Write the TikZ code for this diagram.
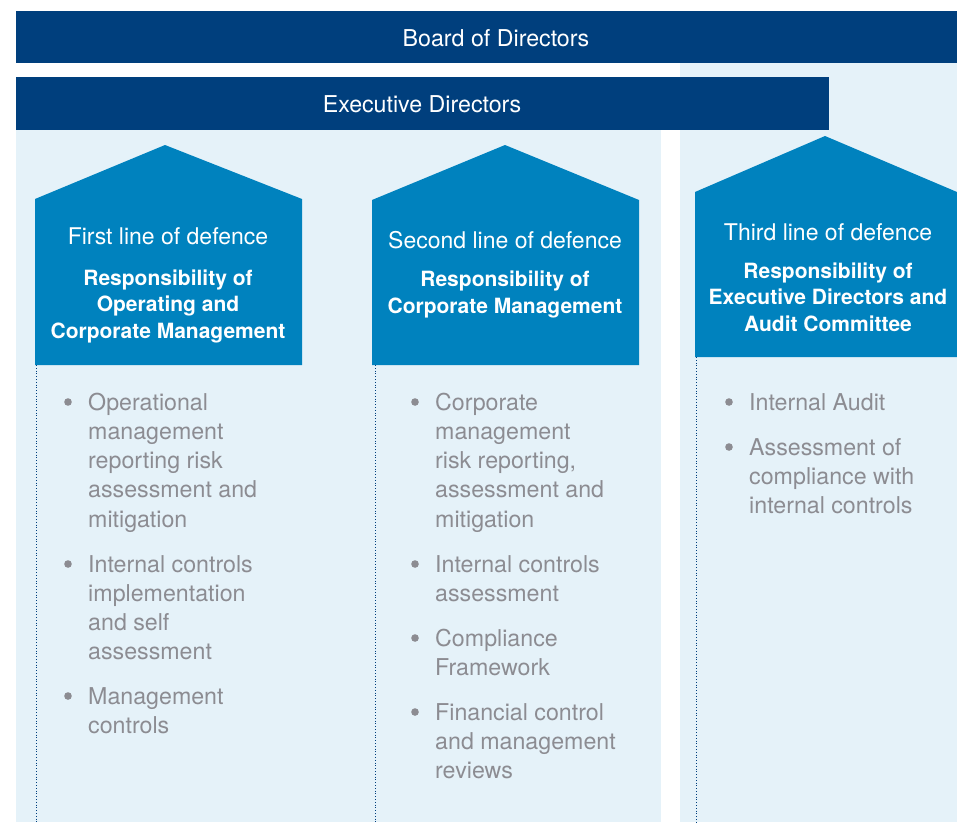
\documentclass[tikz,border=0pt]{standalone}
\usepackage{fontspec}
\setmainfont{TeX Gyre Heros}
\usetikzlibrary{positioning}

\definecolor{navy}{RGB}{0,63,125}
\definecolor{lineblue}{RGB}{0,130,190}
\definecolor{paleblue}{RGB}{229,242,249}
\definecolor{textgray}{RGB}{140,140,146}

% one bullet point of a column: name, x, first baseline y, number of lines, text
\newcommand{\defenceitem}[5]{%
  \fill[textgray] (#2-20,#3-8) circle (3.8);
  \node[itemtext] (#1) at (#2,{#3+(#4-1)*29.3}) {#5};
}

\begin{document}
\begin{tikzpicture}[x=1pt, y=-1pt,
  bar/.style={fill=navy},
  bartext/.style={text=white, font=\fontsize{23.2}{26}\selectfont},
  pentagon/.style={fill=lineblue},
  headtext/.style={text=white, font=\fontsize{23}{26}\selectfont, anchor=base},
  resptext/.style={text=white, font=\fontsize{21}{26.5}\selectfont\bfseries, align=center, anchor=base},
  itemtext/.style={text=textgray, font=\fontsize{23.2}{29.3}\selectfont, align=left, anchor=base west, inner sep=0pt},
  guide/.style={navy, dotted, line width=0.8pt}]
\useasboundingbox (0,0) rectangle (957,822);

% backgrounds and bars
\fill[paleblue] (16,130) rectangle (661,822);
\fill[paleblue] (680,63) rectangle (957,822);
\fill[bar] (16,11) rectangle (957,63);
\fill[bar] (16,77) rectangle (829,130);
\node[bartext] (board) at (496,38) {Board of Directors};
\node[bartext] (exec) at (422,104) {Executive Directors};

% the three lines of defence
\fill[pentagon] (35,365) -- (35,199) -- (165,145) -- (302,199) -- (302,365) -- cycle;
\fill[pentagon] (372,365) -- (372,200) -- (505,145) -- (639,200) -- (639,365) -- cycle;
\fill[pentagon] (695,357) -- (695,192) -- (825,136) -- (957,192) -- (957,357) -- cycle;

\node[headtext] (first) at (168,244) {First line of defence};
\node[resptext] (firstresp) at (168,338) {Responsibility of\\Operating and\\Corporate Management};
\node[headtext] (second) at (505,248) {Second line of defence};
\node[resptext] (secondresp) at (505,313) {Responsibility of\\Corporate Management};
\node[headtext] (third) at (828,240) {Third line of defence};
\node[resptext] (thirdresp) at (828,331) {Responsibility of\\Executive Directors and\\Audit Committee};

\draw[guide] (36,365) -- (36,822);
\draw[guide] (375,365) -- (375,822);
\draw[guide] (696,357) -- (696,822);

% first line
\defenceitem{opmgmt}{88}{410}{5}{Operational\\management\\reporting risk\\assessment and\\mitigation}
\defenceitem{intctrl}{88}{572}{4}{Internal controls\\implementation\\and self\\assessment}
\defenceitem{mgmtctrl}{88}{704}{2}{Management\\controls}

% second line
\defenceitem{corpmgmt}{435}{410}{5}{Corporate\\management\\risk reporting,\\assessment and\\mitigation}
\defenceitem{intassess}{435}{572}{2}{Internal controls\\assessment}
\defenceitem{compliance}{435}{646}{2}{Compliance\\Framework}
\defenceitem{financial}{435}{720}{3}{Financial control\\and management\\reviews}

% third line
\defenceitem{audit}{749}{410}{1}{Internal Audit}
\defenceitem{assessment}{749}{455}{3}{Assessment of\\compliance with\\internal controls}
\end{tikzpicture}
\end{document}
